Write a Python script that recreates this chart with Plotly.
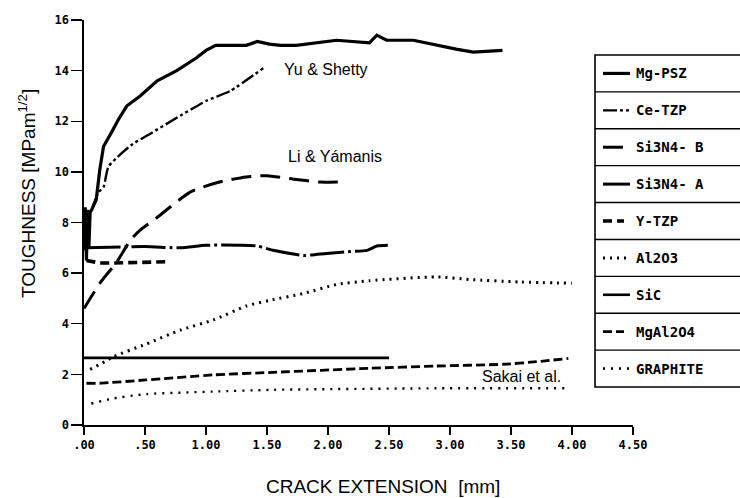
import plotly.graph_objects as go

# ---------------- data ----------------
mgpsz_x = [0.00, 0.01, 0.02, 0.03, 0.04, 0.05, 0.063, 0.10, 0.13, 0.16, 0.23, 0.28, 0.35, 0.46,
           0.60, 0.76, 0.92, 1.00, 1.08, 1.33, 1.42, 1.52, 1.61, 1.74, 2.07, 2.34, 2.40, 2.48,
           2.70, 2.89, 3.05, 3.19, 3.43]
mgpsz_y = [6.9, 8.6, 6.5, 8.5, 7.0, 8.4, 8.5, 8.9, 10.1, 11.0, 11.6, 12.05, 12.6, 13.0,
           13.6, 14.0, 14.5, 14.8, 15.0, 15.0, 15.15, 15.05, 15.0, 15.0, 15.2, 15.1, 15.4, 15.2,
           15.2, 15.0, 14.85, 14.73, 14.8]

cetzp_x = [0.07, 0.12, 0.16, 0.20, 0.30, 0.40, 0.54, 0.73, 1.00, 1.20, 1.47]
cetzp_y = [8.6, 9.2, 9.4, 10.2, 10.7, 11.1, 11.5, 12.05, 12.8, 13.2, 14.1]

si3n4b_x = [0.00, 0.13, 0.27, 0.38, 0.46, 0.60, 0.87, 1.11, 1.33, 1.50, 1.74, 1.93, 2.15]
si3n4b_y = [4.6, 5.6, 6.45, 7.3, 7.7, 8.2, 9.2, 9.6, 9.8, 9.85, 9.7, 9.6, 9.6]

si3n4a_x = [0.02, 0.50, 0.79, 1.00, 1.28, 1.42, 1.55, 1.80, 1.99, 2.18, 2.32, 2.40, 2.49]
si3n4a_y = [7.0, 7.05, 7.0, 7.1, 7.1, 7.07, 6.9, 6.7, 6.78, 6.85, 6.9, 7.07, 7.1]

ytzp_x = [0.02, 0.13, 0.24, 0.70]
ytzp_y = [6.5, 6.4, 6.4, 6.45]

al2o3_x = [0.05, 0.17, 0.24, 0.51, 0.79, 1.06, 1.33, 1.52, 1.80, 2.07, 2.34, 2.89, 3.16, 3.57, 4.00]
al2o3_y = [2.2, 2.5, 2.7, 3.2, 3.75, 4.15, 4.7, 4.92, 5.2, 5.55, 5.7, 5.85, 5.75, 5.65, 5.6]

sic_x = [0.00, 2.50]
sic_y = [2.65, 2.65]

mgal2o4_x = [0.02, 0.13, 0.51, 1.06, 1.55, 2.34, 2.89, 3.44, 3.71, 3.97]
mgal2o4_y = [1.65, 1.65, 1.78, 1.98, 2.08, 2.24, 2.33, 2.40, 2.50, 2.63]

graphite_x = [0.06, 0.24, 0.51, 1.06, 1.55, 2.89, 3.96]
graphite_y = [0.85, 1.05, 1.22, 1.32, 1.39, 1.45, 1.45]

series_names = ["Mg-PSZ", "Ce-TZP", "Si3N4- B", "Si3N4- A", "Y-TZP", "Al2O3", "SiC", "MgAl2O4", "GRAPHITE"]
series_x = [mgpsz_x, cetzp_x, si3n4b_x, si3n4a_x, ytzp_x, al2o3_x, sic_x, mgal2o4_x, graphite_x]
series_y = [mgpsz_y, cetzp_y, si3n4b_y, si3n4a_y, ytzp_y, al2o3_y, sic_y, mgal2o4_y, graphite_y]

x_tick_vals = [0.0, 0.5, 1.0, 1.5, 2.0, 2.5, 3.0, 3.5, 4.0, 4.5]
x_tick_text = [".00", ".50", "1.00", "1.50", "2.00", "2.50", "3.00", "3.50", "4.00", "4.50"]
y_tick_vals = [0, 2, 4, 6, 8, 10, 12, 14, 16]

annot_text = ["Yu & Shetty", "Li & Yámanis", "Sakai et al."]
annot_x = [1.98, 2.06, 3.59]
annot_y = [14.05, 10.6, 1.9]

# ---------------- styles ----------------
styles = [
    dict(width=3.2, dash="solid", shape="linear"),
    dict(width=2.4, dash="14px,3px,3px,3px,3px,3px", shape="spline"),
    dict(width=3.0, dash="20px,9px", shape="spline"),
    dict(width=3.0, dash="34px,4px,3px,4px", shape="spline"),
    dict(width=3.6, dash="9px,5px", shape="linear"),
    dict(width=3.0, dash="2px,5px", shape="spline"),
    dict(width=2.6, dash="solid", shape="linear"),
    dict(width=2.8, dash="9px,4px", shape="spline"),
    dict(width=2.4, dash="2px,6px", shape="spline"),
]

fig = go.Figure()
for name, xs, ys, st in zip(series_names, series_x, series_y, styles):
    fig.add_trace(go.Scatter(
        x=xs, y=ys, mode="lines", name=name, showlegend=False,
        line=dict(color="black", width=st["width"], dash=st["dash"], shape=st["shape"],
                  smoothing=0.6 if st["shape"] == "spline" else None),
        hoverinfo="skip"))

# ---------------- layout geometry (pixels) ----------------
W, H = 740, 498
L, R, T, B = 84, 633, 20, 425


def px(xp):
    return (xp - L) / (R - L)


def py(yp):
    return (B - yp) / (B - T)


mono_bold = dict(family="DejaVu Sans Mono", color="black", weight="bold")

fig.update_layout(
    width=W, height=H,
    margin=dict(l=L, r=W - R, t=T, b=H - B, pad=0),
    paper_bgcolor="white", plot_bgcolor="white",
    showlegend=False,
    xaxis=dict(range=[0, 4.5], tickvals=x_tick_vals, ticktext=x_tick_text,
               showgrid=False, zeroline=False, showline=True, linecolor="black", linewidth=1.6,
               ticks="outside", ticklen=8, tickwidth=1.4, tickcolor="black",
               tickfont=dict(size=12, **mono_bold)),
    yaxis=dict(range=[0, 16], tickvals=y_tick_vals, ticktext=[str(v) for v in y_tick_vals],
               showgrid=False, zeroline=False, showline=True, linecolor="black", linewidth=1.6,
               ticks="outside", ticklen=11, tickwidth=1.4, tickcolor="black",
               tickfont=dict(size=12, **mono_bold)),
)

annotations = []
for t, ax_, ay_ in zip(annot_text, annot_x, annot_y):
    annotations.append(dict(x=ax_, y=ay_, xref="x", yref="y", text=t, showarrow=False,
                            xanchor="center", yanchor="middle",
                            font=dict(family="Liberation Sans", size=16, color="black")))

# axis titles
annotations.append(dict(x=px(383), y=py(486), xref="paper", yref="paper",
                        text="CRACK EXTENSION  [mm]", showarrow=False,
                        xanchor="center", yanchor="middle",
                        font=dict(family="Liberation Sans", size=19, color="black")))
annotations.append(dict(x=px(27), y=py(194), xref="paper", yref="paper",
                        text="TOUGHNESS [MPam<sup>1/2</sup>]", showarrow=False, textangle=-90,
                        xanchor="center", yanchor="middle",
                        font=dict(family="Liberation Sans", size=19, color="black")))

# ---------------- legend box (drawn) ----------------
shapes = []
leg_l, leg_r, leg_t, leg_b = 595, 760, 55, 387
row_h = (leg_b - leg_t) / len(series_names)
shapes.append(dict(type="rect", xref="paper", yref="paper", x0=px(leg_l), x1=px(leg_r),
                   y0=py(leg_b), y1=py(leg_t), line=dict(color="black", width=1.6),
                   fillcolor="white", layer="above"))
sample_ends = [630, 630, 624, 630, 624, 630, 630, 624, 632]
for i, (name, st) in enumerate(zip(series_names, styles)):
    top = leg_t + i * row_h
    cy = top + row_h / 2
    if i > 0:
        shapes.append(dict(type="line", xref="paper", yref="paper", x0=px(leg_l), x1=px(leg_r),
                           y0=py(top), y1=py(top), line=dict(color="black", width=1.4),
                           layer="above"))
    shapes.append(dict(type="line", xref="paper", yref="paper", x0=px(603), x1=px(sample_ends[i]),
                       y0=py(cy), y1=py(cy),
                       line=dict(color="black", width=st["width"], dash=st["dash"]),
                       layer="above"))
    annotations.append(dict(x=px(634), y=py(cy), xref="paper", yref="paper", text=name,
                            showarrow=False, xanchor="left", yanchor="middle",
                            font=dict(size=14, **mono_bold)))

fig.update_layout(shapes=shapes, annotations=annotations)

fig.write_html("out.html",
               config={"displayModeBar": False, "staticPlot": True},
               post_script="document.body.style.margin='0px';document.body.style.overflow='hidden';")
